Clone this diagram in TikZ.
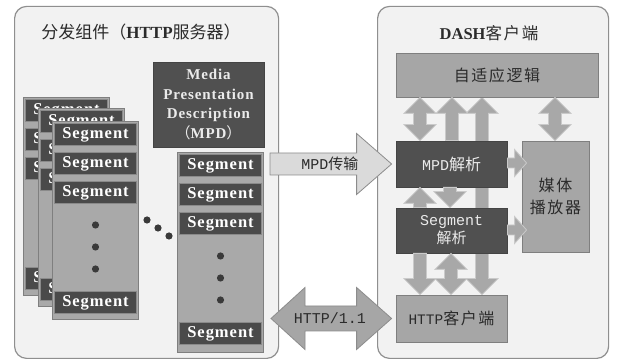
\documentclass[tikz,border=0pt]{standalone}
\usepackage{fontspec}
\setmainfont{Liberation Serif}
\setmonofont{Liberation Mono}
\newfontfamily\cjk{Noto Sans CJK SC}
\newfontfamily\cjkwide[LetterSpace=10]{Noto Sans CJK SC}
\newfontfamily\segfont[LetterSpace=6]{Liberation Serif}
\usetikzlibrary{calc}

\definecolor{panelfill}{HTML}{F2F2F2}
\definecolor{panelline}{HTML}{8F8F8F}
\definecolor{midgray}{HTML}{A6A6A6}
\definecolor{midline}{HTML}{7F7F7F}
\definecolor{darkfill}{HTML}{505050}
\definecolor{segfill}{HTML}{4A4A4A}
\definecolor{segline}{HTML}{8A8A8A}
\definecolor{colfill}{HTML}{A9A9A9}
\definecolor{arrfill}{HTML}{A8A8A8}
\definecolor{arrline}{HTML}{CACACA}
\definecolor{lightarr}{HTML}{DADADA}
\definecolor{bigline}{HTML}{8C8C8C}
\definecolor{txtdark}{HTML}{2B2B2B}
\definecolor{dotc}{HTML}{3A3A3A}

\pgfdeclarelayer{bg}
\pgfdeclarelayer{behind}
\pgfsetlayers{bg,behind,main}

\tikzset{
  panel/.style={draw=panelline, line width=1.2pt, fill=panelfill,
    rounded corners=12pt, anchor=south west, inner sep=0pt},
  colbox/.style={draw=midline, fill=colfill, line width=1pt,
    minimum width=86pt, anchor=north west, inner sep=0pt},
  segbox/.style={draw=segline, fill=segfill, line width=1.3pt,
    minimum width=82pt, minimum height=22pt, inner sep=0pt, text=white,
    font=\segfont\bfseries\fontsize{16.5}{16.5}\selectfont},
  midbox/.style={draw=midline, fill=midgray, line width=0.8pt,
    inner sep=0pt, text=txtdark},
  darkbox/.style={draw=darkfill!85!black, fill=darkfill, line width=0.8pt,
    inner sep=0pt, text=white!92!black},
  blk/.style={fill=arrfill, draw=arrline, line width=0.8pt, line join=miter},
  bigarrow/.style={draw=bigline, line width=0.8pt, line join=miter},
  segdot/.style={fill=dotc},
}

% a column of media segments: name, left x, top y, height
\newcommand\segcol[4]{%
  \node[colbox, minimum height=#4pt] (#1) at (#2,#3) {};
  \node[segbox, anchor=north] (#1-a) at ([yshift=-2pt]#1.north) {Segment};
  \node[segbox, anchor=north] (#1-b) at ([yshift=-31pt]#1.north) {Segment};
  \node[segbox, anchor=north] (#1-c) at ([yshift=-60pt]#1.north) {Segment};
  \fill[segdot] ([yshift=-104pt]#1.north) circle[radius=3.6pt];
  \fill[segdot] ([yshift=-126pt]#1.north) circle[radius=3.6pt];
  \fill[segdot] ([yshift=-148pt]#1.north) circle[radius=3.6pt];
  \node[segbox, anchor=north] (#1-d) at ([yshift=-170pt]#1.north) {Segment};
}

% vertical block arrows: x, upper node, lower node
\newcommand\vboth[3]{%
  \path[blk] let \p1=(#2.south), \p2=(#3.north) in
    (#1pt,\y1) -- (#1pt+16pt,\y1-16pt) -- (#1pt+6.5pt,\y1-16pt)
    -- (#1pt+6.5pt,\y2+16pt) -- (#1pt+16pt,\y2+16pt) -- (#1pt,\y2)
    -- (#1pt-16pt,\y2+16pt) -- (#1pt-6.5pt,\y2+16pt)
    -- (#1pt-6.5pt,\y1-16pt) -- (#1pt-16pt,\y1-16pt) -- cycle;}
\newcommand\vup[3]{%
  \path[blk] let \p1=(#2.south), \p2=(#3.north) in
    (#1pt,\y1) -- (#1pt+16pt,\y1-16pt) -- (#1pt+6.5pt,\y1-16pt)
    -- (#1pt+6.5pt,\y2) -- (#1pt-6.5pt,\y2)
    -- (#1pt-6.5pt,\y1-16pt) -- (#1pt-16pt,\y1-16pt) -- cycle;}
\newcommand\vdown[3]{%
  \path[blk] let \p1=(#2.south), \p2=(#3.north) in
    (#1pt,\y2) -- (#1pt+16pt,\y2+16pt) -- (#1pt+6.5pt,\y2+16pt)
    -- (#1pt+6.5pt,\y1) -- (#1pt-6.5pt,\y1)
    -- (#1pt-6.5pt,\y2+16pt) -- (#1pt-16pt,\y2+16pt) -- cycle;}
% horizontal block arrow: from node, to node, y
\newcommand\hright[3]{%
  \path[blk] let \p1=(#1.east), \p2=(#2.west) in
    (\x1,#3pt+5pt) -- (\x2-7pt,#3pt+5pt) -- (\x2-7pt,#3pt+13.5pt)
    -- (\x2+5pt,#3pt) -- (\x2-7pt,#3pt-13.5pt) -- (\x2-7pt,#3pt-5pt)
    -- (\x1,#3pt-5pt) -- cycle;}

\begin{document}
\begin{tikzpicture}[x=1pt, y=1pt]
\useasboundingbox (0,0) rectangle (617,363);

\begin{pgfonlayer}{bg}
  \fill[white] (0,0) rectangle (617,363);
  \node[panel, minimum width=264pt, minimum height=352pt] (srv) at (14,4) {};
  \node[panel, minimum width=231pt, minimum height=352pt] (cli) at (377,4) {};
\end{pgfonlayer}

% panel titles
\node[text=txtdark, font=\fontsize{17}{17}\selectfont] (srvtitle) at (141,331)
  {{\cjk 分发组件（}\textbf{HTTP}{\cjk 服务器）}};
\node[text=txtdark, font=\fontsize{16.5}{16.5}\selectfont] (clititle) at (489,330)
  {\textbf{DASH}{\cjkwide 客户端}};

% server side: stacked representations and the MPD
\segcol{colA}{23}{266}{198}
\segcol{colB}{38}{255}{198}
\segcol{colC}{52}{242}{198}
\segcol{colR}{177}{211}{200}

\node[darkbox, minimum width=111pt, minimum height=85pt, align=center,
  font=\segfont\bfseries\fontsize{15}{19.5}\selectfont] (mpd) at (208.5,258.5)
  {Media\\Presentation\\Description\\{\cjk\mdseries （}MPD{\cjk\mdseries ）}};

\fill[segdot] (147,143) circle[radius=3.6pt];
\fill[segdot] (158,135) circle[radius=3.6pt];
\fill[segdot] (169,127) circle[radius=3.6pt];

% client side blocks
\node[midbox, minimum width=202pt, minimum height=44pt,
  font=\cjkwide\fontsize{16}{16}\selectfont] (adapt) at (497,288) {自适应逻辑};
\node[darkbox, minimum width=111pt, minimum height=46pt,
  font=\fontsize{16}{16}\selectfont] (mpdp) at (451.5,199)
  {{\ttfamily\fontsize{15}{15}\selectfont MPD}{\cjk 解析}};
\node[darkbox, minimum width=111pt, minimum height=45pt, align=center,
  font=\fontsize{15}{18}\selectfont] (segp) at (451.5,132.5)
  {{\ttfamily Segment}\\{\cjk 解析}};
\node[midbox, minimum width=67pt, minimum height=111pt, align=center,
  font=\cjkwide\fontsize{16}{22}\selectfont] (player) at (555.5,166.5)
  {媒体\\播放器};
\node[midbox, minimum width=111pt, minimum height=47pt,
  font=\fontsize{16}{16}\selectfont] (httpc) at (451.5,44.5)
  {{\ttfamily\fontsize{14.5}{16}\selectfont HTTP}{\cjkwide 客户端}};

% long link behind the parsers
\begin{pgfonlayer}{behind}
  \vboth{482}{adapt}{httpc}
\end{pgfonlayer}

\vboth{420}{adapt}{mpdp}
\vup{452}{adapt}{mpdp}
\vboth{555}{adapt}{player}
\vup{420}{mpdp}{segp}
\vdown{450}{mpdp}{segp}
\vdown{420}{segp}{httpc}
\vboth{451}{segp}{httpc}
\hright{mpdp}{player}{200}
\hright{segp}{player}{133}

% MPD delivery
\path[bigarrow, fill=lightarr] let \p1=(colR.east), \p2=(mpdp.west) in
  (\x1+6pt,\y2+11pt) -- (\x2-39pt,\y2+11pt) -- (\x2-39pt,\y2+30.5pt)
  -- (\x2-4pt,\y2) -- (\x2-39pt,\y2-30.5pt) -- (\x2-39pt,\y2-11pt)
  -- (\x1+6pt,\y2-11pt) -- cycle;
\node[text=txtdark, font=\fontsize{15}{15}\selectfont] (mpdlabel)
  at ($(colR.east |- mpdp.west)!0.5!(mpdp.west)$)
  {{\ttfamily MPD}{\cjk 传输}};

% HTTP exchange
\path[bigarrow, fill=midgray] let \p1=(colR.east), \p2=(httpc.west) in
  (\x1+7pt,\y2) -- (\x1+41pt,\y2+31pt) -- (\x1+41pt,\y2+12.5pt)
  -- (\x2-39pt,\y2+12.5pt) -- (\x2-39pt,\y2+31pt) -- (\x2-4pt,\y2)
  -- (\x2-39pt,\y2-31pt) -- (\x2-39pt,\y2-12.5pt) -- (\x1+41pt,\y2-12.5pt)
  -- (\x1+41pt,\y2-31pt) -- cycle;
\node[text=txtdark, font=\ttfamily\fontsize{15}{15}\selectfont] (httplabel)
  at ($(colR.east |- httpc.west)!0.5!(httpc.west)$) {HTTP/1.1};
\end{tikzpicture}
\end{document}
